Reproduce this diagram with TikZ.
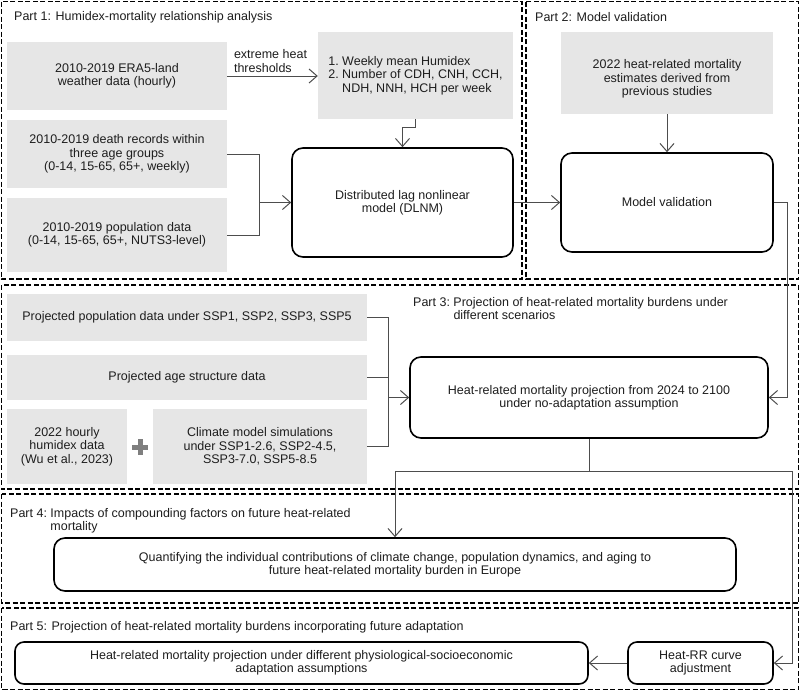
\documentclass[tikz,border=0pt]{standalone}
\usepackage{fontspec}
\setmainfont{Liberation Sans}
\usetikzlibrary{arrows.meta}
\definecolor{boxgray}{HTML}{E6E6E6}
\definecolor{linegray}{HTML}{4D4D4D}
\definecolor{plusgray}{HTML}{7F7F7F}
\definecolor{txt}{HTML}{1E1E1E}
\begin{document}
\begin{tikzpicture}[x=1pt,y=-1pt,
  every node/.style={font=\fontsize{12.5pt}{13.4pt}\selectfont, text=txt, inner sep=0pt},
  gfill/.style={fill=boxgray},
  gbox/.style={fill=boxgray, align=center},
  rbox/.style={draw=black, line width=1.6pt, rounded corners=11pt, align=center},
  partbox/.style={draw=black, line width=1.5pt, dash pattern=on 5pt off 2.5pt},
  conn/.style={draw=linegray, line width=1pt},
  arr/.style={conn, -{Straight Barb[length=8pt,width=14pt,line width=1pt]}},
  lbl/.style={align=left}
]
\useasboundingbox (0,0) rectangle (800,691);
\fill[white] (0,0) rectangle (800,691);

% part frames
\draw[partbox] (1.5,1.5) rectangle (522,279);
\draw[partbox] (526,1.5) rectangle (798.5,279);
\draw[partbox] (1.5,285) rectangle (798.5,489);
\draw[partbox] (1.5,494) rectangle (798.5,603);
\draw[partbox] (1.5,608) rectangle (798.5,689.5);

% part labels
\node[anchor=west] (p1) at (14,17) {Part 1: Humidex-mortality relationship analysis};
\node[anchor=west] (p2) at (535,17) {Part 2: Model validation};
\node[anchor=north west] (p3) at (413,297) {\begin{tabular}{@{}l@{\ }l@{}}Part 3: & Projection of heat-related mortality burdens under\\ & different scenarios\end{tabular}};
\node[anchor=north west] (p4) at (10,508) {\begin{tabular}{@{}l@{\ }l@{}}Part 4: & Impacts of compounding factors on future heat-related\\ & mortality\end{tabular}};
\node[anchor=west] (p5) at (10,627) {Part 5: Projection of heat-related mortality burdens incorporating future adaptation};

% part 1 boxes
\node[gbox, minimum width=220pt, minimum height=68pt] (era) at (117,76) {2010-2019 ERA5-land\\weather data (hourly)};
\node[gbox, minimum width=220pt, minimum height=68pt] (death) at (117,154) {2010-2019 death records within\\three age groups\\(0-14, 15-65, 65+, weekly)};
\node[gbox, minimum width=220pt, minimum height=74pt] (pop) at (117,235) {2010-2019 population data\\(0-14, 15-65, 65+, NUTS3-level)};
\node[gfill, minimum width=195pt, minimum height=87pt] (hum) at (415.5,75.5) {};
\node (humt) at (415.5,76) {\begin{tabular}{@{}r@{\ }l@{}}1. & Weekly mean Humidex\\ 2. & Number of CDH, CNH, CCH,\\ & NDH, NNH, HCH per week\end{tabular}};
\node[rbox, minimum width=221pt, minimum height=109pt] (dlnm) at (402.5,202.5) {Distributed lag nonlinear\\model (DLNM)};

% part 2 boxes
\node[gfill, minimum width=212pt, minimum height=82pt] (est) at (667,73) {};
\node[align=center] (estt) at (667,79) {2022 heat-related mortality\\estimates derived from\\previous studies};
\node[rbox, minimum width=212pt, minimum height=99pt] (mv) at (667,202.5) {Model validation};

% part 3 boxes
\node[gbox, minimum width=360pt, minimum height=47pt] (ppop) at (187,317.5) {Projected population data under SSP1, SSP2, SSP3, SSP5};
\node[gbox, minimum width=360pt, minimum height=45pt] (page) at (187,377.5) {Projected age structure data};
\node[gbox, minimum width=120pt, minimum height=75pt] (hourly) at (67,446.5) {2022 hourly\\humidex data\\(Wu et al., 2023)};
\node[gbox, minimum width=214pt, minimum height=75pt] (clim) at (260,446.5) {Climate model simulations\\under SSP1-2.6, SSP2-4.5,\\SSP3-7.0, SSP5-8.5};
\node[rbox, minimum width=358pt, minimum height=81pt] (hp) at (589,397.5) {Heat-related mortality projection from 2024 to 2100\\under no-adaptation assumption};
% plus sign
\fill[plusgray] (132,444.5) rectangle (148,449.5);
\fill[plusgray] (137.5,439) rectangle (142.5,455);

% part 4
\node[rbox, minimum width=682pt, minimum height=53pt] (quant) at (395,564.5) {Quantifying the individual contributions of climate change, population dynamics, and aging to\\future heat-related mortality burden in Europe};

% part 5
\node[rbox, minimum width=573pt, minimum height=42pt, rounded corners=9pt] (adapt) at (301.5,663) {Heat-related mortality projection under different physiological-socioeconomic\\adaptation assumptions};
\node[rbox, minimum width=145pt, minimum height=42pt, rounded corners=9pt] (rr) at (700.5,663) {Heat-RR curve\\adjustment};

% connectors
\draw[arr] (era.east) -- (era.east -| hum.west) node[pos=0.07, anchor=south west, lbl, yshift=3pt] (thr) {extreme heat\\thresholds};
\coordinate (jd) at (402.5,127);
\draw[arr] (hum.south) |- (jd) -- (dlnm.north);
\coordinate (jb) at (259,202.5);
\draw[conn] (death.east) -| (jb);
\draw[conn] (pop.east) -| (jb);
\draw[arr] (jb) -- (dlnm.west);
\draw[arr] (dlnm.east) -- (mv.west);
\draw[arr] (est.south) -- (mv.north);
\coordinate (jm) at (787,202.5);
\draw[arr] (mv.east) -- (jm) |- (hp.east);
\coordinate (j3) at (388,397.5);
\draw[conn] (ppop.east) -| (j3);
\draw[conn] (page.east) -| (j3);
\draw[conn] (clim.east) -| (j3);
\draw[arr] (j3) -- (hp.west);
\coordinate (jh) at (589,471);
\coordinate (jr) at (792,663);
\draw[conn] (hp.south) -- (jh);
\draw[arr] (jh) -| (quant.north);
\draw[arr] (jh) -| (jr) -- (rr.east);
\draw[arr] (rr.west) -- (adapt.east);
\end{tikzpicture}
\end{document}
